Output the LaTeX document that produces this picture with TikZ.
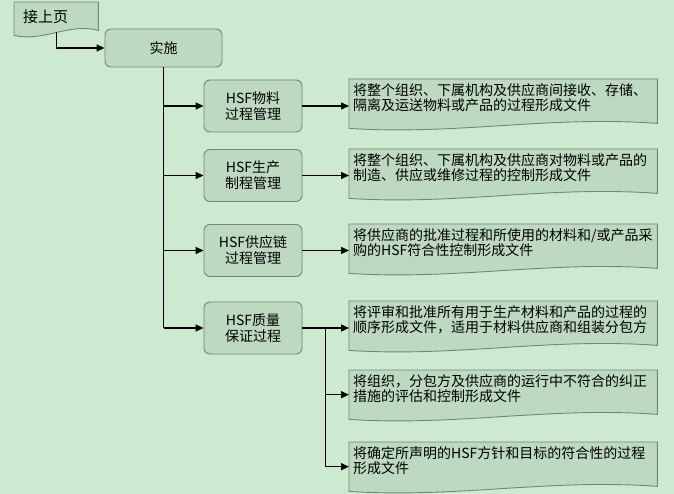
\documentclass[tikz,border=0pt]{standalone}
\usepackage{fontspec}
\setmainfont{Noto Sans CJK SC}
\usetikzlibrary{calc,arrows.meta,backgrounds}
\definecolor{bgcol}{HTML}{CDE9D0}
\definecolor{boxfill}{HTML}{BDD9C0}
\definecolor{bordercol}{HTML}{6E8A70}
\tikzset{
  conn/.style={line width=1.4pt, draw=black},
  arr/.style={conn, -{Triangle[length=8pt,width=7pt]}},
  procbox/.style={draw=bordercol, line width=0.9pt, fill=boxfill, rounded corners=6pt,
    minimum width=98pt, minimum height=52pt, align=center, inner sep=0pt,
    font=\fontsize{14}{16}\selectfont},
  docnode/.style={anchor=north west, inner sep=4pt, font=\fontsize{14}{15}\selectfont},
  docshape/.style={draw=bordercol, line width=0.9pt, fill=boxfill},
}
\newcommand\doctext[1]{\parbox[c][41pt][t]{300pt}{\raggedright #1}}
\newcommand\wavedoc[1]{\path[docshape] (#1.south west) -- (#1.north west) -- (#1.north east)
  -- ($(#1.south east)+(0pt,5pt)$)
  .. controls ($(#1.south west)!0.65!(#1.south east)+(0pt,13pt)$)
  and ($(#1.south west)!0.35!(#1.south east)+(0pt,-7pt)$) .. (#1.south west) -- cycle;}
\begin{document}
\begin{tikzpicture}[x=1pt,y=-1pt]
\useasboundingbox (0,0) rectangle (674,494);
% nodes
\node[anchor=north west, inner xsep=9pt, inner ysep=8pt, font=\fontsize{15}{16}\selectfont]
  (top) at (14,2) {\parbox[c][17pt][t]{66pt}{接上页}};
\node[procbox, minimum width=117pt, minimum height=38pt] (impl) at (163.5,48) {实施};
\node[procbox] (b1) at (253,106) {HSF物料\\过程管理};
\node[procbox] (b2) at (253,175.5) {HSF生产\\制程管理};
\node[procbox] (b3) at (253,250.5) {HSF供应链\\过程管理};
\node[procbox] (b4) at (253,328) {HSF质量\\保证过程};
\node[docnode] (d1) at (349,79) {\doctext{将整个组织、下属机构及供应商间接收、存储、\\隔离及运送物料或产品的过程形成文件}};
\node[docnode] (d2) at (349,149) {\doctext{将整个组织、下属机构及供应商对物料或产品的\\制造、供应或维修过程的控制形成文件}};
\node[docnode] (d3) at (349,224) {\doctext{将供应商的批准过程和所使用的材料和/或产品采\\购的HSF符合性控制形成文件}};
\node[docnode] (d4) at (349,301) {\doctext{将评审和批准所有用于生产材料和产品的过程的\\顺序形成文件，适用于材料供应商和组装分包方}};
\node[docnode] (d5) at (349,370) {\doctext{将组织，分包方及供应商的运行中不符合的纠正\\措施的评估和控制形成文件}};
\node[docnode] (d6) at (349,442) {\doctext{将确定所声明的HSF方针和目标的符合性的过程\\形成文件}};
\begin{pgfonlayer}{background}
\fill[bgcol] (0,0) rectangle (674,494);
\wavedoc{top}
\wavedoc{d1}
\wavedoc{d2}
\wavedoc{d3}
\wavedoc{d4}
\wavedoc{d5}
\wavedoc{d6}
\end{pgfonlayer}
% connectors
\draw[arr] ($(top.south)+(0pt,3pt)$) |- (impl.west);
\draw[conn] (impl.south) -- (impl.south |- b4.west);
\foreach \b in {b1,b2,b3,b4}{
  \draw[arr] (impl.south |- \b.west) -- (\b.west);
}
\foreach \b/\d in {b1/d1,b2/d2,b3/d3,b4/d4}{
  \draw[arr] (\b.east) -- (\b.east -| \d.west);
}
\coordinate (j) at ($(b4.east)+(23pt,0pt)$);
\draw[arr] (j) |- (d6.west);
\draw[arr] (j |- d5.west) -- (d5.west);
\end{tikzpicture}
\end{document}
